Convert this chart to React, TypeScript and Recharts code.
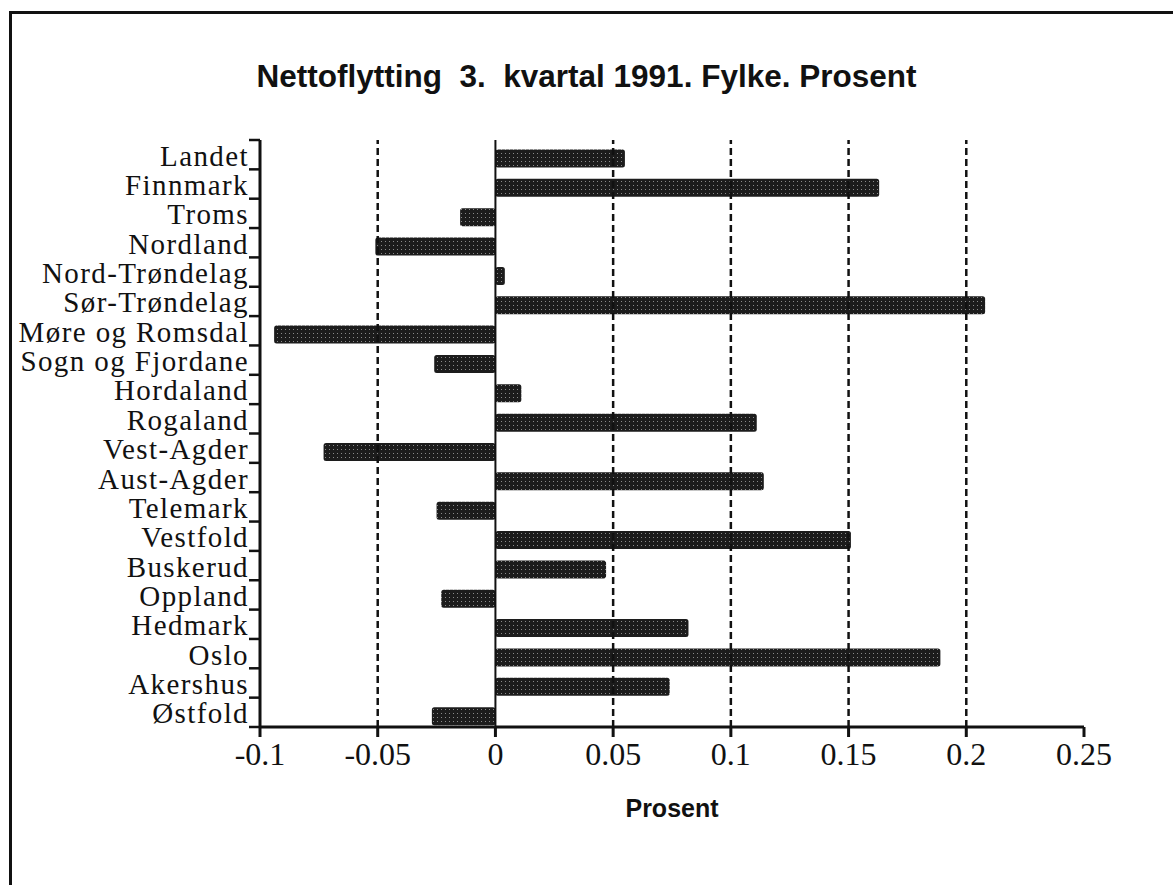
import { BarChart, Bar, XAxis, YAxis, ReferenceLine } from 'recharts';

const fylker = [
  'Landet', 'Finnmark', 'Troms', 'Nordland', 'Nord-Trøndelag', 'Sør-Trøndelag',
  'Møre og Romsdal', 'Sogn og Fjordane', 'Hordaland', 'Rogaland', 'Vest-Agder',
  'Aust-Agder', 'Telemark', 'Vestfold', 'Buskerud', 'Oppland', 'Hedmark',
  'Oslo', 'Akershus', 'Østfold',
];
const prosent = [
  0.055, 0.163, -0.015, -0.051, 0.004, 0.208, -0.094, -0.026, 0.011, 0.111,
  -0.073, 0.114, -0.025, 0.151, 0.047, -0.023, 0.082, 0.189, 0.074, -0.027,
];
const xTicks = [-0.1, -0.05, 0, 0.05, 0.1, 0.15, 0.2, 0.25];
const gridLines = [-0.05, 0.05, 0.1, 0.15, 0.2];

const data = fylker.map((name, i) => ({ name, value: prosent[i] }));

const serif = '"Liberation Serif", "Times New Roman", serif';
const sans = '"Liberation Sans", Arial, Helvetica, sans-serif';

const BAND = 587 / 20;

function YTick(props: any) {
  const { x, y, payload, index } = props;
  return (
    <g>
      <text
        x={x - 11}
        y={y + 11}
        textAnchor="end"
        fontFamily={serif}
        fontSize={29}
        letterSpacing={1.4}
        fill="#111"
      >
        {payload.value}
      </text>
      <line x1={x - 11} x2={x} y1={y + BAND / 2} y2={y + BAND / 2} stroke="#111" strokeWidth={2.5} />
      {index === 0 && (
        <line x1={x - 11} x2={x} y1={y - BAND / 2} y2={y - BAND / 2} stroke="#111" strokeWidth={2.5} />
      )}
    </g>
  );
}

function BarShape(props: any) {
  const { x, y, width, height } = props;
  const x0 = width < 0 ? x + width : x;
  const w = Math.abs(width);
  return <rect x={x0} y={y + 3.5} width={w} height={height} rx={2.5} fill="url(#stipple)" />;
}

export default function App() {
  return (
    <div style={{ position: 'absolute', left: 0, top: 0, width: 1173, height: 885, overflow: 'hidden', background: '#fff' }}>
      <div
        style={{
          position: 'absolute', left: 9, top: 11, width: 1200, height: 900,
          borderTop: '3px solid #111', borderLeft: '3px solid #111',
        }}
      />
      <div
        style={{
          position: 'absolute', left: 10, width: 1163 - 10, top: 58, textAlign: 'center',
          fontFamily: sans, fontWeight: 'bold', fontSize: 31.5, whiteSpace: 'pre', color: '#111',
        }}
      >
        {'Nettoflytting  3.  kvartal 1991. Fylke. Prosent'}
      </div>
      <div
        style={{
          position: 'absolute', left: 260, width: 824, top: 794, textAlign: 'center',
          fontFamily: sans, fontWeight: 'bold', fontSize: 25, color: '#111',
        }}
      >
        Prosent
      </div>
      <div style={{ position: 'absolute', left: 0, top: 0 }}>
        <BarChart
          width={1173}
          height={885}
          data={data}
          layout="vertical"
          margin={{ top: 140, right: 89, bottom: 0, left: 0 }}
          barSize={18}
        >
          <defs>
            <pattern id="stipple" width="4" height="4" patternUnits="userSpaceOnUse">
              <rect width="4" height="4" fill="#1c1c1c" />
              <rect x="1" y="1" width="1" height="1" fill="#8a8a8a" />
            </pattern>
          </defs>
          <XAxis
            type="number"
            domain={[-0.1, 0.25]}
            ticks={xTicks}
            tickFormatter={(v: number) => String(v)}
            height={158}
            tickSize={10}
            tickMargin={5}
            interval={0}
            allowDataOverflow
            axisLine={{ stroke: '#111', strokeWidth: 3 }}
            tickLine={{ stroke: '#111', strokeWidth: 3 }}
            tick={{ fontFamily: serif, fontSize: 32, fill: '#111' }}
          />
          <XAxis
            xAxisId="top"
            orientation="top"
            type="number"
            domain={[-0.1, 0.25]}
            height={0}
            tick={false}
            tickLine={false}
            axisLine={{ stroke: '#111', strokeWidth: 3 }}
          />
          <YAxis
            type="category"
            dataKey="name"
            width={260}
            tickSize={0}
            tickMargin={0}
            tickLine={false}
            interval={0}
            axisLine={{ stroke: '#111', strokeWidth: 3 }}
            tick={<YTick />}
          />
          <YAxis
            yAxisId="right"
            orientation="right"
            type="category"
            dataKey="name"
            width={0}
            tick={false}
            tickLine={false}
            axisLine={{ stroke: '#111', strokeWidth: 3 }}
          />
          {gridLines.map((g) => (
            <ReferenceLine key={g} x={g} stroke="#111" strokeWidth={2.5} strokeDasharray="7 4" />
          ))}
          <ReferenceLine x={0} stroke="#111" strokeWidth={2} />
          <Bar dataKey="value" shape={<BarShape />} isAnimationActive={false} />
        </BarChart>
      </div>
    </div>
  );
}
